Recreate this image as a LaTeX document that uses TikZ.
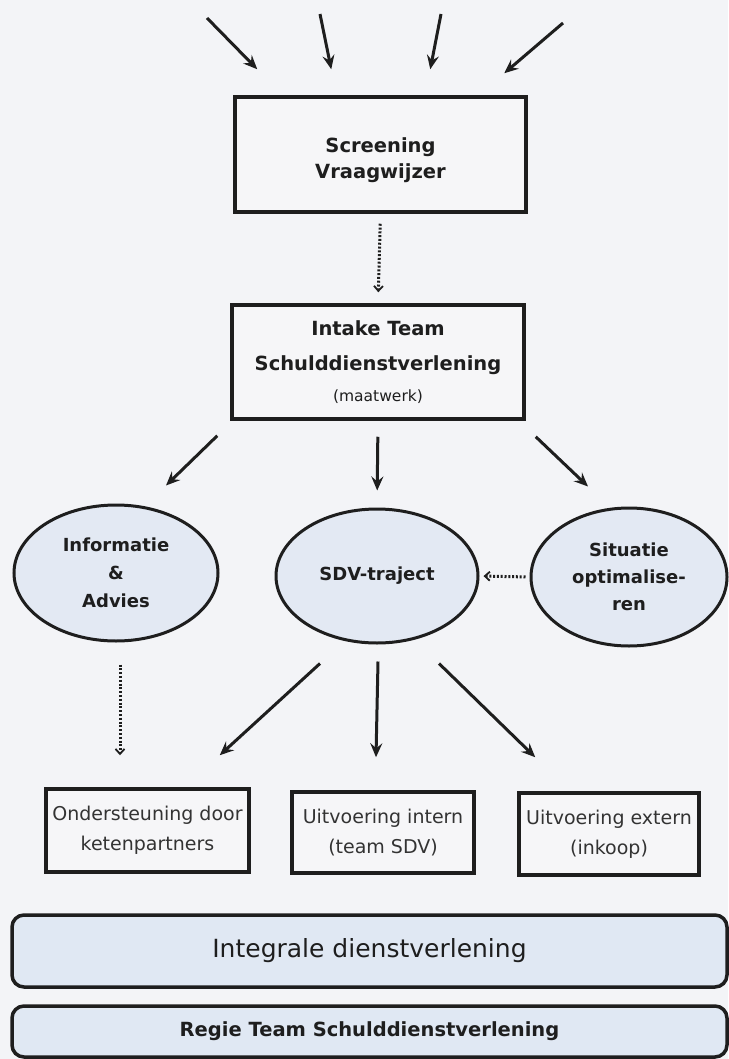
\documentclass[tikz,border=0pt]{standalone}
\usepackage{fontspec}
\setmainfont{DejaVu Sans}
\usetikzlibrary{arrows.meta,shapes.geometric,calc}
\definecolor{bg}{HTML}{F3F4F7}
\definecolor{ink}{HTML}{1E1E1E}
\definecolor{ellfill}{HTML}{E3E9F3}
\definecolor{barfill}{HTML}{E0E8F3}
\definecolor{boxfill}{HTML}{F6F6F8}
\begin{document}
\begin{tikzpicture}[x=1pt,y=-1pt,
  arr/.style={-{Stealth[length=14pt,width=12pt,inset=5pt]}, line width=3pt, draw=ink},
  dotarr/.style={-{Straight Barb[length=5pt,width=9pt,line width=1.8pt]}, line width=3pt, draw=ink, dash pattern=on 2pt off 1.8pt},
  mainbox/.style={draw=ink, line width=3.5pt, fill=boxfill, inner sep=0pt, align=center, font=\bfseries\fontsize{19.5}{26}\selectfont, text=ink},
  ell/.style={ellipse, draw=ink, line width=3pt, fill=ellfill, inner sep=0pt, align=center, font=\bfseries\fontsize{18}{28}\selectfont, text=ink},
  outbox/.style={draw=ink, line width=3.5pt, fill=boxfill, inner sep=0pt, align=center, font=\fontsize{19}{30}\selectfont, text=black!80},
  bar/.style={draw=ink, line width=3.5pt, rounded corners=12pt, fill=barfill, inner sep=0pt, text=ink}
]
\useasboundingbox (0,0) rectangle (728,1059);
\fill[bg] (0,0) rectangle (728,1059);

% main boxes
\node[mainbox, minimum width=291pt, minimum height=115pt,
  label={[font=\bfseries\fontsize{19.5}{26}\selectfont, text=ink, align=center, yshift=-6pt]center:{Screening\\Vraagwijzer}}] (scr) at (380.5,154.5) {};
\node[mainbox, minimum width=292pt, minimum height=114pt] (int) at (378,362)
  {Intake Team\\[9pt]Schulddienstverlening\\[5pt]{\mdseries\fontsize{15.5}{18}\selectfont (maatwerk)}};

% ellipses
\node[ell, minimum width=204pt, minimum height=136pt] (info) at (116,573) {Informatie\\\&\\Advies};
\node[ell, minimum width=202pt, minimum height=134pt] (sdv) at (377,576) {SDV-traject};
\node[ell, minimum width=196pt, minimum height=138pt, font=\bfseries\fontsize{18}{27}\selectfont] (sit) at (629,577) {Situatie\\optimalise-\\ren};

% output boxes
\node[outbox, minimum width=203pt, minimum height=83pt] (ond) at (147.5,830.5) {Ondersteuning door\\ketenpartners};
\node[outbox, minimum width=182pt, minimum height=81pt] (intern) at (383,832.5) {Uitvoering intern\\(team SDV)};
\node[outbox, minimum width=180pt, minimum height=82pt] (ext) at (609,834) {Uitvoering extern\\(inkoop)};

% bars
\node[bar, minimum width=715pt, minimum height=72pt, font=\fontsize{25}{30}\selectfont] (integ) at (369.5,951) {Integrale dienstverlening};
\node[bar, minimum width=715pt, minimum height=51pt, font=\bfseries\fontsize{19.5}{24}\selectfont] (regie) at (369.5,1031.5) {Regie Team Schulddienstverlening};

% incoming arrows at top
\coordinate (t1) at (207,18);
\coordinate (t2) at (320,14);
\coordinate (t3) at (441,14);
\coordinate (t4) at (563,23);
\draw[arr] (t1) -- ($(scr.north west)+(24,-26)$);
\draw[arr] (t2) -- ($(scr.north west)+(98,-26)$);
\draw[arr] (t3) -- ($(scr.north west)+(197,-26)$);
\draw[arr] (t4) -- ($(scr.north west)+(271,-22)$);

% screening -> intake
\draw[dotarr, shorten <=10pt, shorten >=11pt] (scr.south) -- (int.north);

% intake -> ellipses
\draw[arr] ($(int.south west)+(-13,15)$) -- ($(info.north)+(50,-18)$);
\draw[arr, shorten <=16pt, shorten >=17pt] (int.south) -- (sdv.north);
\draw[arr] ($(int.south east)+(10,16)$) -- ($(sit.north)+(-41,-20)$);

% situatie -> sdv
\draw[dotarr, shorten <=4pt, shorten >=4pt] (sit.west) -- (sdv.east);

% informatie -> ondersteuning
\draw[dotarr] ($(info.south)+(4,22)$) -- ($(ond.north)+(-27.5,-32)$);

% sdv -> output boxes
\draw[arr] ($(sdv.south)+(-57,19)$) -- ($(ond.north east)+(-31,-32)$);
\draw[arr] ($(sdv.south)+(1,17)$) -- ($(intern.north)+(-7,-33)$);
\draw[arr] ($(sdv.south)+(62,19)$) -- ($(ext.north west)+(18,-34)$);
\end{tikzpicture}
\end{document}
